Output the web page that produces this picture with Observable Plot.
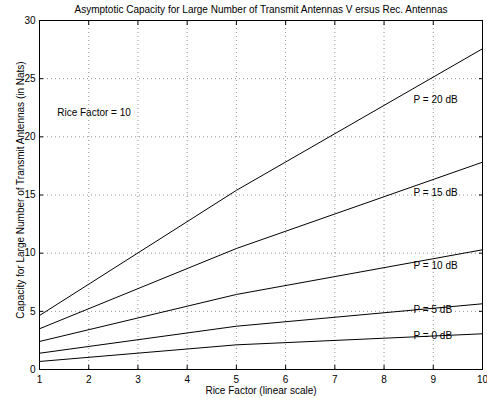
<!DOCTYPE html>
<html>
<head>
<meta charset="utf-8">
<script src="https://cdn.jsdelivr.net/npm/d3@7"></script>
<script src="https://cdn.jsdelivr.net/npm/@observablehq/plot@0.6"></script>
<style>
  html, body { margin: 0; padding: 0; background: #fff; }
  svg { font-family: "Liberation Sans", Arial, Helvetica, sans-serif; }
</style>
</head>
<body>
<div id="chart"></div>
<script>
const riceFactor = [1, 5, 10];
const seriesNames = ["P = 0 dB", "P = 5 dB", "P = 10 dB", "P = 15 dB", "P = 20 dB"];
const cap0 = [0.69, 2.12, 3.07];
const cap5 = [1.40, 3.72, 5.65];
const cap10 = [2.41, 6.45, 10.29];
const cap15 = [3.50, 10.40, 17.82];
const cap20 = [4.64, 15.40, 27.57];
const labelX = [8.6, 8.6, 8.6, 8.6, 8.6];
const labelY = [2.9, 5.1, 8.9, 15.2, 23.2];
const xTicks = [1, 2, 3, 4, 5, 6, 7, 8, 9, 10];
const yTicks = [0, 5, 10, 15, 20, 25, 30];
const titleText = "Asymptotic Capacity for Large Number of Transmit Antennas V ersus Rec. Antennas";
const xLabel = "Rice Factor (linear scale)";
const yLabel = "Capacity for Large Number of Transmit Antennas (in Nats)";
const noteText = "Rice Factor = 10";
const noteX = 1.36, noteY = 22.1;

const allSeries = [cap0, cap5, cap10, cap15, cap20];
const rows = [];
allSeries.forEach((vals, i) => vals.forEach((v, j) => rows.push({series: seriesNames[i], x: riceFactor[j], y: v})));
const labels = seriesNames.map((s, i) => ({text: s, x: labelX[i], y: labelY[i]}));

const plot = Plot.plot({
  width: 487,
  height: 398,
  marginLeft: 39,
  marginRight: 5,
  marginTop: 20,
  marginBottom: 29,
  style: {fontFamily: '"Liberation Sans", Arial, Helvetica, sans-serif', fontSize: "10px", color: "#000", background: "#fff"},
  x: {domain: [1, 10], ticks: xTicks},
  y: {domain: [0, 30], ticks: yTicks},
  marks: [
    Plot.gridX(xTicks.slice(1, -1), {stroke: "#777", strokeOpacity: 1, strokeDasharray: "1,3", strokeWidth: 0.8}),
    Plot.gridY(yTicks.slice(1, -1), {stroke: "#777", strokeOpacity: 1, strokeDasharray: "1,3", strokeWidth: 0.8}),
    Plot.line(rows, {x: "x", y: "y", z: "series", stroke: "#000", strokeWidth: 1}),
    Plot.text(labels, {x: "x", y: "y", text: "text", textAnchor: "start", fontSize: 10, fill: "#000"}),
    Plot.text([noteText], {x: [noteX], y: [noteY], text: d => d, textAnchor: "start", fontSize: 10, fill: "#000"}),
    Plot.axisX(xTicks, {anchor: "bottom", tickSize: -4, tickPadding: 10, label: null, fontSize: 10}),
    Plot.axisX(xTicks, {anchor: "top", tickSize: -4, tickFormat: () => "", label: null}),
    Plot.axisY(yTicks, {anchor: "left", tickSize: -4, tickPadding: 8, label: null, fontSize: 10}),
    Plot.axisY(yTicks, {anchor: "right", tickSize: -4, tickFormat: () => "", label: null}),
    Plot.frame({stroke: "#000", strokeWidth: 1}),
    Plot.text([titleText], {frameAnchor: "top", lineAnchor: "middle", textAnchor: "middle", dy: -11, text: d => d, fontSize: 10, fill: "#000"}),
    Plot.text([xLabel], {frameAnchor: "bottom", lineAnchor: "middle", textAnchor: "middle", dy: 21, text: d => d, fontSize: 10, fill: "#000"}),
    Plot.text([yLabel], {frameAnchor: "left", lineAnchor: "middle", textAnchor: "middle", dx: -19, dy: -5, rotate: -90, text: d => d, fontSize: 10, fill: "#000"})
  ]
});
document.getElementById("chart").appendChild(plot);
</script>
</body>
</html>
